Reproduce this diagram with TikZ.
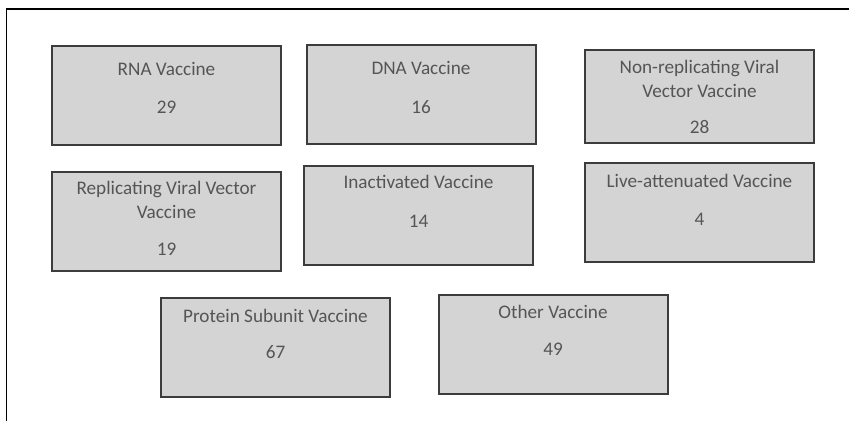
\documentclass[tikz,border=0pt]{standalone}
\usepackage{fontspec}
\setmainfont{Carlito}
\usepackage{tikz}

\definecolor{boxfill}{HTML}{D4D4D4}
\definecolor{boxline}{HTML}{3C3C3C}
\definecolor{txtgray}{HTML}{555555}

\begin{document}
\begin{tikzpicture}[x=1pt,y=-1pt]

		\tikzstyle{vbox}=[rectangle,draw=boxline,fill=boxfill,line width=2pt,minimum width=229pt,minimum height=99pt,inner sep=0pt]
		\tikzstyle{ttl}=[anchor=base,align=center,text=txtgray,inner sep=0pt,font=\fontsize{19.2}{23.5}\selectfont]

		\useasboundingbox (0,0) rectangle (849,421);
		\draw [line width=1.5pt] (849,9) -- (6.5,9) -- (6.5,421);

		% first row
		\node [vbox] (rna) at (166.5,95.5) {};
		\node [ttl] (rnat) at ([yshift=-30pt]rna.north) {RNA Vaccine};
		\node [ttl] (rnan) at ([yshift=-68pt]rna.north) {29};

		\node [vbox] (dna) at (421,94.5) {};
		\node [ttl] (dnat) at ([yshift=-30pt]dna.north) {DNA Vaccine};
		\node [ttl] (dnan) at ([yshift=-69pt]dna.north) {16};

		\node [vbox,minimum height=93pt] (nrv) at (699.5,96.5) {};
		\node [ttl] (nrvt) at ([yshift=-48pt]nrv.north) {Non-replicating Viral\\Vector Vaccine};
		\node [ttl] (nrvn) at ([yshift=-84pt]nrv.north) {28};

		% second row
		\node [vbox] (rvv) at (166.5,221.5) {};
		\node [ttl] (rvvt) at ([yshift=-47pt]rvv.north) {Replicating Viral Vector\\Vaccine};
		\node [ttl] (rvvn) at ([yshift=-84pt]rvv.north) {19};

		\node [vbox] (inact) at (418.5,215) {};
		\node [ttl] (inactt) at ([yshift=-24pt]inact.north) {Inactivated Vaccine};
		\node [ttl] (inactn) at ([yshift=-63pt]inact.north) {14};

		\node [vbox] (live) at (699.5,212.5) {};
		\node [ttl] (livet) at ([yshift=-25pt]live.north) {Live-attenuated Vaccine};
		\node [ttl] (liven) at ([yshift=-63pt]live.north) {4};

		% third row
		\node [vbox] (prot) at (275.5,347.5) {};
		\node [ttl] (prott) at ([yshift=-25pt]prot.north) {Protein Subunit Vaccine};
		\node [ttl] (protn) at ([yshift=-61pt]prot.north) {67};

		\node [vbox] (other) at (553,344.5) {};
		\node [ttl] (othert) at ([yshift=-24pt]other.north) {Other Vaccine};
		\node [ttl] (othern) at ([yshift=-61pt]other.north) {49};

\end{tikzpicture}
\end{document}
